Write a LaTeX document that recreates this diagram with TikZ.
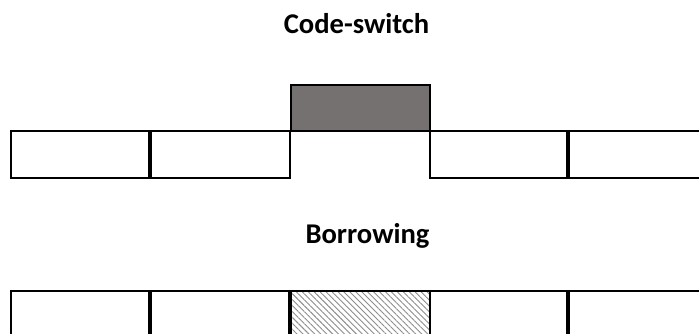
\documentclass[tikz,border=0pt]{standalone}
\usepackage{fontspec}
\setmainfont{Carlito}
\usetikzlibrary{patterns.meta}
\begin{document}
\begin{tikzpicture}[x=1pt,y=-1pt,
  cell/.style={draw=black, line width=2pt, fill=white, anchor=north west,
    minimum height=47pt, inner sep=0pt, outer sep=0pt},
  divider/.style={line width=3.2pt},
  title/.style={font=\bfseries\fontsize{28.6}{32}\selectfont, inner sep=0pt, anchor=base},
  switched/.style={cell, fill={rgb,255:red,118;green,113;blue,113}},
  borrowed/.style={cell, pattern={Lines[angle=-45,distance=4.2pt,line width=0.9pt]},
    pattern color=black!45}]
\useasboundingbox (0,0) rectangle (699,334);
\clip (0,0) rectangle (699,334);

% titles
\node[title] (t1) at (356.5,33.5) {Code-switch};
\node[title] (t2) at (367.5,243.5) {Borrowing};

% code-switch row
\node[cell, minimum width=139pt] (a1) at (11,131) {};
\node[cell, minimum width=140pt] (a2) at (150,131) {};
\node[switched, minimum width=139pt, minimum height=46pt] (a3) at (291,85) {};
\node[cell, minimum width=138pt] (a4) at (430,131) {};
\node[cell, minimum width=140pt] (a5) at (568,131) {};
\draw[divider] (a1.north east) -- (a1.south east);
\draw[divider] (a4.north east) -- (a4.south east);

% borrowing row
\node[cell, minimum width=139pt, minimum height=60pt] (b1) at (11,291) {};
\node[cell, minimum width=140pt, minimum height=60pt] (b2) at (150,291) {};
\node[borrowed, minimum width=140pt, minimum height=60pt] (b3) at (290,291) {};
\node[cell, minimum width=138pt, minimum height=60pt] (b4) at (430,291) {};
\node[cell, minimum width=140pt, minimum height=60pt] (b5) at (568,291) {};
\draw[divider] (b1.north east) -- (b1.south east);
\draw[divider] (b2.north east) -- (b2.south east);
\draw[divider] (b4.north east) -- (b4.south east);
\end{tikzpicture}
\end{document}
